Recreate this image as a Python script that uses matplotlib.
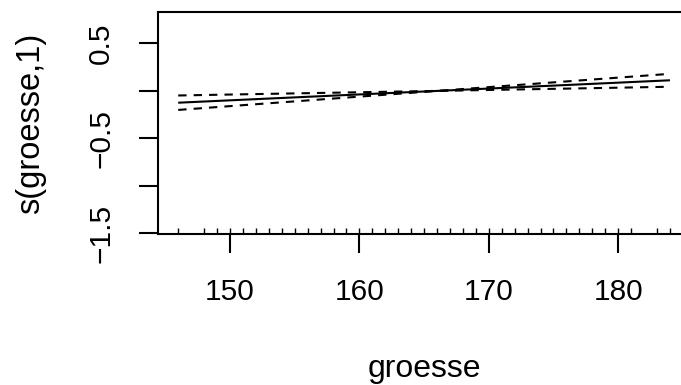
import matplotlib
matplotlib.use("Agg")
import matplotlib.pyplot as plt
import matplotlib.transforms as mtransforms

plt.rcParams['font.family'] = ['Liberation Sans', 'DejaVu Sans']

# data
x_grid = [146, 150, 155, 160, 165, 166, 170, 175, 180, 184]
fit    = [-0.125, -0.100, -0.069, -0.038, -0.007, -0.001, 0.024, 0.055, 0.086, 0.111]
upper  = [-0.049, -0.039, -0.027, -0.015, -0.003, -0.001, 0.039, 0.089, 0.139, 0.179]
lower  = [-0.201, -0.161, -0.111, -0.061, -0.011, -0.001, 0.009, 0.021, 0.033, 0.043]
rug_x = [146, 148, 149] + list(range(150, 182)) + [183, 184]
x_ticks = [150, 160, 170, 180]
y_ticks = [-1.5, -1.0, -0.5, 0.0, 0.5]
y_ticklabels = ['\u22121.5', '', '\u22120.5', '', '0.5']
x_label = 'groesse'
y_label = 's(groesse,1)'

W, H = 681, 385
fig = plt.figure(figsize=(W / 100, H / 100), dpi=100)
L, R, T, B = 158.3, 689.6, 11.7, 233.7
ax = fig.add_axes([L / W, (H - B) / H, (R - L) / W, (B - T) / H])

lw = 1.5
ax.plot(x_grid, fit, color='black', lw=lw, solid_capstyle='butt')
ax.plot(x_grid, upper, color='black', lw=lw, linestyle=(0, (4, 3.4)))
ax.plot(x_grid, lower, color='black', lw=lw, linestyle=(0, (4, 3.4)))

trans = mtransforms.blended_transform_factory(ax.transData, ax.transAxes)
ax.vlines(rug_x, 0, 0.027, transform=trans, color='black', lw=1.0)

ax.set_xlim(144.46, 185.52)
ax.set_ylim(-1.504, 0.833)

fs = 21.5
ax.set_xticks(x_ticks)
ax.set_xticklabels([str(v) for v in x_ticks], fontsize=fs)
ax.set_yticks(y_ticks)
ax.set_yticklabels(y_ticklabels, fontsize=fs, rotation=90, va='center')
ax.tick_params(axis='both', direction='out', length=14, width=lw, color='black')
ax.tick_params(axis='x', pad=18)
ax.tick_params(axis='y', pad=17)

for s in ['left', 'top', 'bottom', 'right']:
    ax.spines[s].set_linewidth(lw)

fig.text((L + R) / 2 / W, (H - 377) / H, x_label, fontsize=23, ha='center', va='baseline')
fig.text(31 / W, 1 - 123.5 / H, y_label, fontsize=23.5, ha='center', va='center', rotation=90)

fig.savefig('out.png', dpi=100)
